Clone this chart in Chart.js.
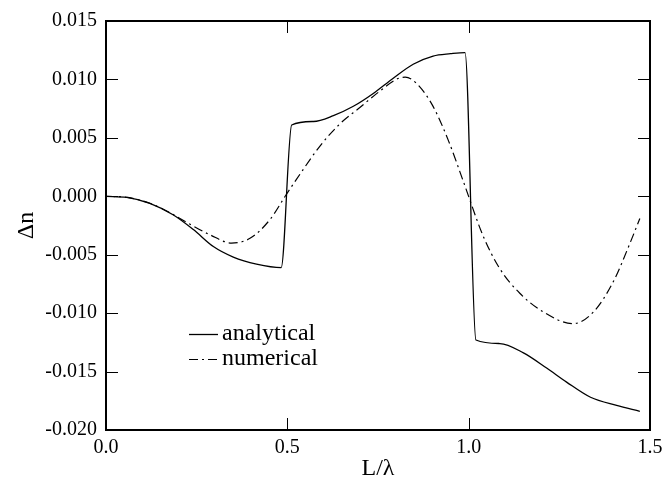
<!DOCTYPE html>
<html>
<head>
  <title>Δn vs L/λ</title>
  <script src="https://cdn.jsdelivr.net/npm/chart.js"></script>
  <style>
    body { margin: 0; background: #fff; }
  </style>
</head>
<body>
  <canvas id="dnChart" width="672" height="489"></canvas>

  <script>
    // values
    const analyticalX = [0, 0.057, 0.121, 0.186, 0.241, 0.296, 0.351, 0.415, 0.483, 0.512, 0.572, 0.627, 0.682, 0.737, 0.792, 0.847, 0.902, 0.95, 0.99, 1.02, 1.086, 1.151, 1.215, 1.27, 1.336, 1.408, 1.472];
    const analyticalY = [0, -0.0001, -0.0006, -0.0016, -0.00285, -0.0043, -0.0052, -0.0058, -0.0061, 0.0061, 0.0064, 0.0069, 0.0077, 0.0088, 0.0101, 0.0113, 0.0120, 0.0122, 0.0123, -0.0123, -0.0126, -0.0134, -0.0147, -0.0159, -0.0172, -0.0179, -0.0184];

    const numericalX = [0, 0.06, 0.121, 0.176, 0.232, 0.287, 0.346, 0.397, 0.452, 0.494, 0.535, 0.59, 0.645, 0.70, 0.755, 0.80, 0.825, 0.855, 0.9, 0.945, 0.985, 1.04, 1.086, 1.141, 1.206, 1.288, 1.344, 1.399, 1.445, 1.472];
    const numericalY = [0, -0.0001, -0.0006, -0.0014, -0.0024, -0.0033, -0.0040, -0.0036, -0.0020, 0.0000, 0.0019, 0.0043, 0.0062, 0.0076, 0.0090, 0.0100, 0.0102, 0.0097, 0.0078, 0.0047, 0.0013, -0.0034, -0.0062, -0.0083, -0.0099, -0.0109, -0.0099, -0.0073, -0.0040, -0.0019];

    const seriesNames = ['analytical', 'numerical'];

    const serif = "'Liberation Serif', 'DejaVu Serif', serif";

    const toPoints = (xs, ys) => xs.map((v, i) => ({ x: v, y: ys[i] }));

    // box frame, inward ticks on all four sides, and the legend inside the plot
    const frameAndLegend = {
      id: 'frameAndLegend',
      afterDraw(chart) {
        const { ctx, chartArea: a, scales } = chart;
        const tick = 12;
        ctx.save();
        ctx.strokeStyle = '#000';
        ctx.lineWidth = 1;
        ctx.beginPath();
        scales.x.ticks.forEach(t => {
          const px = Math.round(scales.x.getPixelForValue(t.value)) + 0.5;
          ctx.moveTo(px, a.bottom); ctx.lineTo(px, a.bottom - tick);
          ctx.moveTo(px, a.top); ctx.lineTo(px, a.top + tick);
        });
        scales.y.ticks.forEach(t => {
          const py = Math.round(scales.y.getPixelForValue(t.value)) + 0.5;
          ctx.moveTo(a.left, py); ctx.lineTo(a.left + tick, py);
          ctx.moveTo(a.right, py); ctx.lineTo(a.right - tick, py);
        });
        ctx.stroke();

        ctx.lineWidth = 2;
        ctx.strokeRect(a.left, a.top, a.right - a.left, a.bottom - a.top);

        // legend
        const lx = a.left + 83;
        let ly = a.top + 313;
        ctx.font = '24px ' + serif;
        ctx.fillStyle = '#000';
        ctx.textBaseline = 'middle';
        chart.data.datasets.forEach(ds => {
          ctx.beginPath();
          ctx.lineWidth = ds.borderWidth;
          ctx.setLineDash(ds.borderDash || []);
          ctx.moveTo(lx, ly + 0.5);
          ctx.lineTo(lx + 29, ly + 0.5);
          ctx.stroke();
          ctx.setLineDash([]);
          ctx.fillText(ds.label, lx + 33, ly);
          ly += 25;
        });
        ctx.restore();
      }
    };

    const ctx = document.getElementById('dnChart').getContext('2d');

    const dnChart = new Chart(ctx, {
      type: 'line',
      data: {
        datasets: [{
          label: seriesNames[0],
          data: toPoints(analyticalX, analyticalY),
          borderColor: '#000',
          borderWidth: 1.3,
          pointRadius: 0,
          cubicInterpolationMode: 'monotone'
        }, {
          label: seriesNames[1],
          data: toPoints(numericalX, numericalY),
          borderColor: '#000',
          borderWidth: 1.2,
          borderDash: [9, 4, 2, 4],
          pointRadius: 0,
          cubicInterpolationMode: 'monotone'
        }]
      },
      options: {
        responsive: false,
        animation: false,
        layout: { padding: { top: 15, right: 22, left: 0, bottom: 6 } },
        plugins: {
          legend: { display: false },
          tooltip: { enabled: false }
        },
        scales: {
          x: {
            type: 'linear',
            min: 0,
            max: 1.5,
            grid: { display: false, drawTicks: false },
            border: { display: false },
            ticks: {
              stepSize: 0.5,
              padding: 6,
              maxRotation: 0,
              color: '#000',
              font: { family: serif, size: 20 },
              callback: v => v.toFixed(1)
            },
            title: {
              display: true,
              text: 'L/λ',
              color: '#000',
              font: { family: serif, size: 24 },
              padding: { top: 0, bottom: 0 }
            },
            afterFit: s => { s.height = 53; }
          },
          y: {
            min: -0.02,
            max: 0.015,
            grid: { display: false, drawTicks: false },
            border: { display: false },
            ticks: {
              stepSize: 0.005,
              padding: 9,
              color: '#000',
              font: { family: serif, size: 20 },
              callback: v => v.toFixed(3)
            },
            title: {
              display: true,
              text: 'Δn',
              color: '#000',
              font: { family: serif, size: 24 },
              padding: { top: 12, bottom: 0 }
            },
            afterFit: s => { s.width = 106; }
          }
        }
      },
      plugins: [frameAndLegend]
    });
  </script>
</body>
</html>
